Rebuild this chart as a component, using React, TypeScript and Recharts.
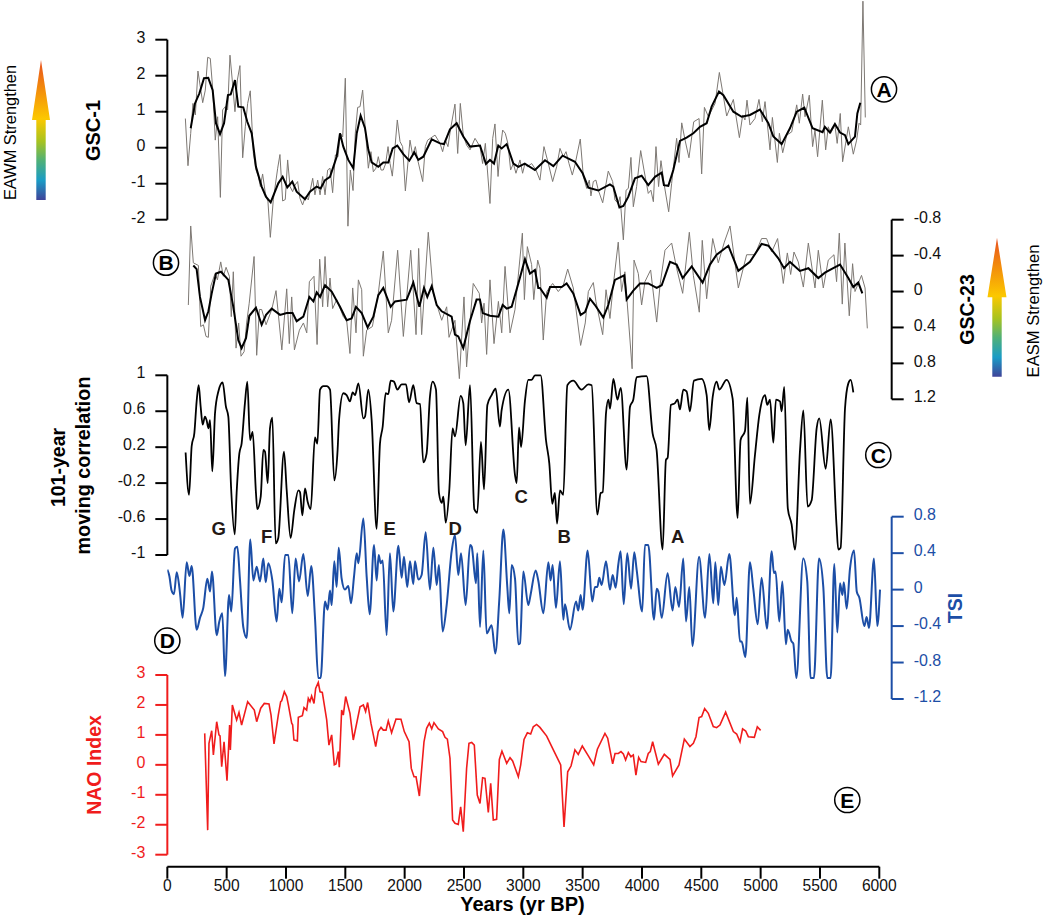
import React from "react";
import { ComposedChart, Line, XAxis, YAxis, ReferenceLine } from "recharts";

type Pair = [number, number];

const yearTicks = [0, 500, 1000, 1500, 2000, 2500, 3000, 3500, 4000, 4500, 5000, 5500, 6000];
const gsc1Ticks = [3, 2, 1, 0, -1, -2];
const gsc23Ticks = [-0.8, -0.4, 0, 0.4, 0.8, 1.2];
const corrTicks = [1, 0.6, 0.2, -0.2, -0.6, -1];
const tsiTicks = [0.8, 0.4, 0, -0.4, -0.8, -1.2];
const naoTicks = [3, 2, 1, 0, -1, -2, -3];

const gsc1Raw: Pair[] = [[152,.81],[174,-.5],[197,.4],[216,1.23],[236,.91],[258,2.13],[278,1.69],[298,1.25],[320,1.6],[340,2.51],[362,2.48],[382,1.65],[404,.21],[424,.86],[447,-1.38],[466,1.05],[489,1.14],[508,1.05],[528,2.57],[551,1.74],[570,1.0],[590,1.88],[612,2.28],[635,-.28],[657,.58],[677,1.23],[699,1.58],[725,-.16],[747,-.62],[767,-.8],[784,-1.08],[803,-.73],[826,-1.27],[848,-1.5],[868,-2.49],[893,-1.45],[930,-.57],[949,-.19],[972,-1.48],[994,-1.44],[1014,-.34],[1034,-1.08],[1056,-1.22],[1076,-1.04],[1098,-.94],[1118,-1.41],[1140,-1.59],[1163,-1.36],[1188,-1.45],[1225,-.85],[1244,-1.31],[1267,-.9],[1287,-1.31],[1309,-.8],[1329,-1.31],[1351,-.62],[1371,-.57],[1393,-1.25],[1416,-.2],[1438,-.25],[1458,.4],[1478,.3],[1500,1.93],[1522,-2.18],[1542,-.62],[1565,-1.19],[1584,.4],[1604,1.12],[1624,1.14],[1646,1.6],[1671,.4],[1694,-.57],[1716,-.11],[1736,-.67],[1758,-.57],[1778,-.25],[1801,-.62],[1820,-.62],[1840,-.44],[1860,.03],[1877,-.44],[1896,-.79],[1919,.03],[1938,.77],[1961,.17],[1983,.03],[2006,-1.2],[2045,.21],[2067,-.2],[2090,.03],[2110,-.34],[2152,-.94],[2174,.03],[2194,.21],[2216,.26],[2256,.35],[2298,.12],[2320,-.11],[2343,.21],[2365,.03],[2388,.54],[2424,1.21],[2447,-.16],[2469,1.23],[2494,.35],[2522,.07],[2551,-.06],[2593,.26],[2635,.03],[2657,-.44],[2680,.12],[2719,-1.55],[2742,.26],[2761,.66],[2787,-.8],[2805,-.06],[2826,.49],[2848,.4],[2870,.12],[2893,-.62],[2916,-.44],[2938,-.71],[2972,-.34],[2994,-.71],[3014,-.44],[3034,-.53],[3070,-.44],[3107,-.62],[3140,-.9],[3174,.03],[3211,-.44],[3247,-.94],[3281,-.53],[3309,-.02],[3337,-.25],[3360,-.11],[3385,-.44],[3413,-.76],[3435,-.48],[3480,.24],[3506,-.8],[3534,-1.13],[3556,-.9],[3570,-1.34],[3590,-.94],[3612,-.9],[3632,-1.18],[3669,-1.53],[3716,-.65],[3753,-.94],[3772,-1.45],[3800,-1.55],[3815,-1.36],[3843,-2.56],[3866,-1.18],[3885,-1.13],[3907,-.27],[3927,-1.64],[3955,-1.08],[3989,-.08],[4017,-.62],[4053,-1.27],[4075,-1.18],[4096,-1.5],[4118,.03],[4140,-1.08],[4160,-.36],[4188,-1.04],[4225,-1.78],[4250,-.99],[4292,.26],[4312,-.41],[4335,.69],[4363,.21],[4396,-.28],[4436,.72],[4481,.81],[4503,-.73],[4526,1.12],[4560,.86],[4616,1.23],[4652,2.09],[4714,.88],[4770,1.34],[4821,.28],[4849,.91],[4868,.77],[4885,1.32],[4910,.63],[4952,.81],[4986,1.34],[5014,.72],[5037,1.28],[5079,-.06],[5099,.84],[5141,-.41],[5158,.4],[5186,-.14],[5220,.35],[5262,.44],[5304,1.19],[5326,.68],[5354,1.49],[5374,.86],[5410,1.46],[5438,.03],[5458,.49],[5480,-.25],[5520,1.32],[5548,-.06],[5570,.58],[5590,.4],[5626,.63],[5645,.12],[5671,.95],[5691,-.39],[5739,.58],[5781,-.18],[5809,.21],[5829,.68],[5843,.63],[5862,4.07],[5882,.84]];

const gsc1Smooth: Pair[] = [[197,.54],[233,1.23],[270,1.51],[309,1.93],[345,1.94],[382,1.6],[410,.68],[444,.38],[478,.68],[511,1.46],[534,1.48],[570,1.88],[598,1.14],[640,1.12],[674,.72],[711,.4],[747,-.53],[795,-1.08],[831,-1.36],[871,-1.52],[907,-1.22],[935,-.99],[972,-.81],[1011,-1.1],[1053,-.94],[1090,-1.22],[1160,-1.43],[1202,-1.22],[1258,-1.08],[1292,-1.13],[1329,-.9],[1371,-.81],[1427,-.25],[1455,.4],[1483,.03],[1525,-.34],[1567,-.57],[1596,.4],[1629,.89],[1666,.54],[1694,-.06],[1722,-.41],[1778,-.53],[1820,-.41],[1862,-.41],[1899,-.02],[1938,.06],[1989,-.18],[2039,-.36],[2081,-.13],[2115,-.34],[2157,-.25],[2228,.23],[2298,.12],[2332,.1],[2382,.51],[2438,.68],[2494,.31],[2551,.03],[2635,.06],[2685,-.45],[2719,-.34],[2753,-.44],[2789,.06],[2817,-.02],[2860,.1],[2916,-.44],[2958,-.53],[3012,-.44],[3098,-.62],[3183,-.35],[3253,-.51],[3331,-.22],[3435,-.39],[3500,-.71],[3548,-1.11],[3632,-1.19],[3730,-1.02],[3758,-1.08],[3810,-1.66],[3843,-1.62],[3885,-1.36],[3941,-.85],[3997,-.78],[4053,-1.04],[4110,-.81],[4166,-.69],[4185,-1.04],[4222,-1.06],[4264,-.62],[4320,.19],[4376,.28],[4433,.4],[4489,.58],[4545,.68],[4587,1.14],[4649,1.56],[4686,1.46],[4770,1.0],[4840,.86],[4910,.91],[4994,1.06],[5065,.68],[5107,.31],[5177,.1],[5247,.54],[5304,1.0],[5368,1.11],[5438,.54],[5522,.43],[5541,.58],[5584,.42],[5626,.66],[5669,.42],[5711,.35],[5739,.1],[5795,.31],[5815,.95],[5840,1.25]];

const gsc23Raw: Pair[] = [[177,.15],[197,-.73],[219,-.32],[262,-.29],[281,.39],[304,.37],[326,.5],[346,.51],[366,-.06],[402,-.2],[422,-.13],[450,-.33],[472,-.17],[495,-.27],[523,-.17],[539,.28],[556,-.22],[579,.63],[601,.35],[621,.72],[647,.67],[668,.35],[690,.13],[731,-.39],[753,.71],[776,.2],[795,.2],[832,.37],[880,.2],[916,-.01],[965,.65],[1006,-.03],[1028,.58],[1048,.06],[1071,.65],[1113,.43],[1147,.35],[1175,.46],[1197,-.11],[1236,-.17],[1262,.59],[1284,-.36],[1309,.17],[1329,-.39],[1351,.17],[1371,-.15],[1393,.19],[1427,.09],[1483,.28],[1511,.32],[1539,.69],[1562,-.04],[1590,.46],[1610,-.13],[1638,-.02],[1652,.72],[1680,.43],[1728,.39],[1778,.02],[1820,-.45],[1862,.46],[1890,.32],[1941,-.46],[1989,.5],[2051,-.46],[2096,.48],[2118,-.48],[2143,.48],[2199,-.66],[2241,.02],[2284,.2],[2312,.32],[2354,.17],[2374,.51],[2424,.32],[2461,.97],[2500,.06],[2522,.84],[2550,.35],[2578,-.09],[2629,.02],[2649,.35],[2669,.13],[2691,.7],[2719,-.13],[2753,.58],[2790,.11],[2818,.46],[2846,-.28],[2888,.46],[2930,.2],[2992,-.65],[3009,.09],[3034,-.5],[3070,-.3],[3088,.09],[3121,-.35],[3140,-.26],[3168,.54],[3197,0],[3247,-.09],[3295,0],[3337,-.07],[3374,-.25],[3421,-.04],[3483,.6],[3522,.35],[3548,0],[3590,-.1],[3612,.11],[3669,.48],[3697,-.02],[3730,.3],[3758,-.07],[3800,-.55],[3828,0],[3856,-.22],[3917,.86],[3933,-.35],[3969,-.2],[3997,.15],[4025,-.11],[4073,-.24],[4124,.34],[4152,-.07],[4194,-.46],[4250,-.54],[4292,-.26],[4343,.02],[4399,-.66],[4433,-.18],[4483,.23],[4508,-.57],[4545,.08],[4596,-.59],[4643,-.32],[4694,-.55],[4742,-.73],[4812,-.04],[4882,-.41],[4952,-.41],[5008,-.59],[5050,-.59],[5093,-.44],[5143,-.59],[5191,-.09],[5225,-.43],[5253,-.19],[5281,-.44],[5317,-.33],[5360,-.05],[5402,-.54],[5458,-.04],[5486,-.46],[5528,-.04],[5570,-.35],[5618,-.41],[5640,-.11],[5663,-.65],[5688,.14],[5710,-.54],[5747,.27],[5775,-.31],[5795,0],[5850,-.18],[5880,-.04],[5899,.41]];

const gsc23Smooth: Pair[] = [[219,-.29],[247,-.25],[275,.06],[318,.32],[346,.22],[374,.02],[410,-.2],[452,-.22],[514,-.13],[556,.17],[598,.54],[626,.63],[663,.52],[691,.27],[747,.18],[795,.37],[832,.26],[880,.19],[950,.26],[1006,.24],[1056,.24],[1090,.33],[1146,.28],[1197,.06],[1231,.11],[1259,.01],[1287,.06],[1329,-.07],[1385,0],[1455,.17],[1511,.32],[1553,.3],[1590,.17],[1638,.24],[1688,.4],[1736,.28],[1778,.04],[1820,-.04],[1882,.17],[1919,.11],[2017,.09],[2073,-.1],[2124,.17],[2163,-.04],[2191,.06],[2228,-.06],[2270,.15],[2312,.22],[2396,.28],[2424,.48],[2452,.5],[2494,.63],[2550,.33],[2606,.09],[2634,.09],[2658,.24],[2719,.27],[2790,.28],[2826,.15],[2860,.19],[2902,.17],[2958,-.09],[3014,-.36],[3056,-.2],[3098,-.24],[3126,-.04],[3140,-.04],[3197,.07],[3225,-.05],[3323,-.05],[3365,-.09],[3421,.02],[3483,.26],[3520,.23],[3562,.08],[3604,.15],[3674,.29],[3716,.15],[3772,-.13],[3851,-.18],[3871,.09],[3927,-.01],[3983,-.09],[4053,-.09],[4124,-.04],[4166,-.07],[4236,-.33],[4292,-.3],[4343,-.15],[4419,-.28],[4511,-.1],[4573,-.3],[4629,-.41],[4728,-.51],[4812,-.23],[4910,-.33],[5008,-.53],[5065,-.51],[5149,-.37],[5197,-.26],[5247,-.33],[5331,-.23],[5402,-.26],[5486,-.15],[5542,-.21],[5612,-.26],[5669,-.3],[5739,-.15],[5781,-.05],[5823,-.1],[5857,.02]];

const movingCorr: Pair[] = [[154,.14],[183,-.33],[205,.21],[228,.36],[247,.71],[264,.89],[281,.65],[298,.45],[317,.54],[331,.5],[346,.41],[360,.5],[379,-.07],[402,.58],[430,.82],[466,.92],[494,.65],[514,.54],[537,-.24],[568,-.77],[584,-.31],[607,.13],[626,.24],[654,.69],[674,.93],[697,.28],[719,.37],[747,-.31],[758,-.49],[787,-.35],[809,.17],[823,.15],[846,-.2],[865,.41],[885,.53],[913,-.87],[935,-.81],[983,.15],[1006,-.28],[1039,-.81],[1070,-.5],[1104,-.28],[1118,-.3],[1138,-.56],[1160,-.26],[1183,-.41],[1208,-.49],[1244,.31],[1264,.24],[1287,.84],[1315,.88],[1343,.88],[1371,.84],[1407,-.17],[1435,.17],[1447,.5],[1483,.8],[1511,.78],[1539,.71],[1562,.81],[1582,.78],[1610,.91],[1652,.52],[1666,.54],[1694,.84],[1722,.5],[1764,-.71],[1792,.24],[1815,.43],[1840,.8],[1862,.79],[1882,.94],[1910,.93],[1938,.84],[1975,.9],[2011,.9],[2037,.7],[2073,.89],[2101,.69],[2129,.68],[2157,.03],[2185,.13],[2213,.76],[2236,.93],[2264,.84],[2289,-.31],[2312,-.42],[2326,-.35],[2346,-.64],[2376,-.28],[2404,.41],[2424,.32],[2472,.77],[2494,.69],[2514,.22],[2551,.89],[2587,-.49],[2612,-.53],[2643,.26],[2669,-.27],[2697,.67],[2733,.78],[2767,.85],[2803,.43],[2817,.61],[2874,.84],[2930,-.11],[2944,-.2],[2964,.42],[2981,.2],[3014,.72],[3042,.95],[3070,.95],[3098,1.0],[3146,1.0],[3191,.28],[3219,.02],[3244,-.43],[3266,-.31],[3284,-.65],[3309,-.28],[3337,-.33],[3371,.89],[3421,.94],[3491,.84],[3548,.9],[3576,.89],[3624,-.55],[3652,-.31],[3669,-.3],[3697,.58],[3717,.73],[3731,.63],[3759,.96],[3793,.73],[3821,.86],[3871,-.05],[3899,.65],[3927,.73],[3955,.98],[4039,.99],[4090,.35],[4123,.17],[4174,-.94],[4202,.06],[4216,.08],[4244,.67],[4278,.69],[4300,.73],[4320,.62],[4348,.84],[4376,.82],[4404,.6],[4438,.94],[4503,.96],[4545,.78],[4567,.39],[4596,.76],[4629,.93],[4652,.84],[4713,.95],[4764,.74],[4806,-.59],[4831,.28],[4868,.38],[4888,.75],[4910,-.43],[4952,.11],[4989,.56],[5037,.78],[5056,.67],[5079,.73],[5107,.25],[5129,.73],[5163,.71],[5177,.6],[5199,.87],[5229,-.48],[5261,-.66],[5289,-.94],[5332,.17],[5360,.61],[5396,-.46],[5430,-.39],[5472,.41],[5494,.52],[5548,-.04],[5590,.51],[5640,-.68],[5654,-.94],[5674,-.92],[5711,.63],[5739,.91],[5759,.95],[5781,.81]];

const tsi: Pair[] = [[0,.22],[17,.15],[36,-.01],[56,-.05],[79,.19],[107,-.04],[129,-.31],[163,.3],[186,.15],[205,.26],[247,-.44],[275,-.31],[303,-.2],[337,.12],[360,-.02],[376,.2],[416,-.5],[438,-.35],[463,-.26],[486,-.95],[520,-.06],[539,-.24],[570,.45],[590,.47],[612,.11],[640,-.41],[669,-.53],[699,.55],[725,.1],[753,.25],[781,.09],[809,.34],[829,.08],[851,.29],[885,.1],[921,-.35],[944,.01],[964,-.14],[992,.38],[1020,.38],[1053,-.26],[1081,.34],[1110,.09],[1146,.39],[1183,-.07],[1213,.26],[1244,-.3],[1272,-.97],[1292,-.97],[1329,-.13],[1351,-.22],[1371,-.01],[1385,-.17],[1407,.31],[1427,.03],[1444,.46],[1469,.12],[1497,0],[1525,.04],[1548,-.15],[1573,.14],[1596,.4],[1610,.29],[1652,.78],[1680,.14],[1705,-.27],[1742,.49],[1764,.1],[1781,.38],[1798,.29],[1815,.32],[1848,-.5],[1876,.4],[1904,-.24],[1947,.48],[1975,.13],[1994,.36],[2022,.03],[2045,.31],[2073,.06],[2087,.31],[2115,.11],[2143,.16],[2177,.63],[2213,0],[2242,.46],[2270,.05],[2289,.27],[2320,-.46],[2354,-.17],[2396,.42],[2424,.6],[2452,.16],[2475,.4],[2514,-.17],[2551,.49],[2565,.47],[2601,.07],[2612,.4],[2635,-.41],[2663,.43],[2691,-.48],[2733,-.39],[2764,-.7],[2798,-.1],[2832,.66],[2865,.03],[2882,-.26],[2902,.27],[2930,.12],[2958,-.6],[2972,-.59],[3000,.2],[3042,-.17],[3062,-.05],[3104,.21],[3126,.1],[3169,-.26],[3211,.3],[3230,.1],[3247,.27],[3275,-.2],[3309,.31],[3337,-.33],[3351,-.16],[3393,-.44],[3444,-.13],[3463,-.23],[3483,-.06],[3500,-.22],[3542,.43],[3581,-.13],[3604,.03],[3624,.03],[3640,.13],[3660,.05],[3697,.31],[3730,0],[3753,.16],[3778,.02],[3800,.27],[3820,.42],[3846,-.16],[3876,.4],[3908,.01],[3935,.41],[3955,.22],[4002,-.24],[4025,.49],[4053,.49],[4101,-.33],[4124,.01],[4138,-.02],[4166,-.31],[4216,.18],[4258,-.23],[4281,.03],[4312,-.19],[4348,.34],[4371,-.35],[4399,.03],[4425,-.62],[4481,.36],[4532,-.31],[4568,.39],[4601,-.15],[4618,.3],[4643,-.17],[4665,.25],[4694,.05],[4736,.39],[4783,-.28],[4798,-.09],[4826,-.57],[4840,-.57],[4871,-.74],[4910,.3],[4938,.01],[4975,-.38],[5008,.13],[5053,-.43],[5093,.42],[5112,.18],[5126,.2],[5157,-.35],[5183,.09],[5213,-.6],[5228,-.44],[5261,-.57],[5275,-.59],[5301,-.97],[5359,.34],[5393,.09],[5421,-.97],[5449,-.97],[5492,.34],[5528,.03],[5562,-.97],[5590,-.97],[5621,.28],[5646,-.47],[5669,.07],[5689,-.06],[5701,.08],[5725,-.21],[5753,.23],[5787,.43],[5810,-.02],[5832,-.09],[5874,-.4],[5893,-.3],[5913,-.42],[5955,.34],[5983,-.4],[6006,0]];

const nao: Pair[] = [[315,1.05],[340,-2.18],[351,.72],[374,1.14],[388,.33],[416,1.44],[435,1.0],[444,.97],[458,-.06],[478,.77],[503,-.53],[525,1.33],[531,.5],[548,2.0],[584,1.5],[604,1.75],[626,1.33],[677,2.11],[733,1.83],[753,1.44],[787,1.89],[817,2.05],[857,2.03],[874,1.66],[899,.7],[935,1.66],[955,2.11],[964,2.14],[986,2.44],[1006,2.28],[1020,2.0],[1048,1.39],[1056,1.34],[1067,.83],[1096,.8],[1104,1.59],[1138,1.64],[1152,1.91],[1174,1.83],[1188,2.22],[1202,2.11],[1216,2.3],[1236,2.05],[1250,2.55],[1272,2.75],[1287,2.44],[1306,2.42],[1343,1.5],[1362,.66],[1385,1.0],[1407,0],[1421,.03],[1441,.44],[1449,-.08],[1469,1.83],[1483,1.66],[1503,2.28],[1539,1.72],[1567,.83],[1624,1.94],[1652,2.0],[1671,1.78],[1688,2.08],[1716,1.39],[1756,.61],[1778,1.11],[1801,1.25],[1820,1.16],[1843,1.16],[1862,1.47],[1890,1.07],[1927,1.53],[1969,1.52],[1997,1.11],[2037,.77],[2056,-.12],[2079,-.4],[2096,-.4],[2124,-1.04],[2163,.77],[2185,1.22],[2208,1.39],[2228,1.2],[2247,1.41],[2284,1.2],[2320,1.11],[2340,.92],[2360,.86],[2382,.22],[2404,-1.84],[2424,-1.95],[2452,-1.99],[2472,-1.4],[2494,-2.23],[2522,-.12],[2542,.72],[2565,.75],[2587,.66],[2612,-1.01],[2635,-1.29],[2657,-.43],[2677,-.45],[2705,-1.59],[2725,-.62],[2747,-1.84],[2775,-1.82],[2798,.18],[2820,.46],[2860,.05],[2888,.24],[2910,.13],[2958,-.4],[2978,0],[3006,.85],[3034,1.07],[3062,1.03],[3084,1.27],[3112,1.35],[3140,1.25],[3197,.96],[3253,.5],[3315,0],[3343,-2.07],[3374,-.23],[3402,-.04],[3435,.5],[3463,.35],[3497,.63],[3548,.3],[3593,0],[3624,.52],[3688,1.05],[3711,.89],[3753,.03],[3773,.38],[3801,.38],[3823,.44],[3843,.36],[3862,.16],[3885,.41],[3907,.27],[3927,.33],[3949,-.34],[3972,.25],[3992,.11],[4031,.08],[4053,.38],[4070,.44],[4090,.77],[4138,.02],[4188,.35],[4236,.18],[4258,-.37],[4312,0],[4357,.86],[4404,.61],[4433,.72],[4455,.94],[4481,1.58],[4503,1.61],[4528,1.88],[4559,1.72],[4601,1.28],[4629,1.24],[4657,1.33],[4705,1.76],[4770,1.11],[4798,1.03],[4826,.77],[4848,1.2],[4874,1.13],[4896,.94],[4947,.92],[4972,1.27],[5000,1.15]];

const rows = (p: Pair[]) => p.map(([year, value]) => ({ year, value }));

// Pixel frame of the whole figure
const W = 1045, H = 916;
const LEFT = 167.3, RIGHT_AXIS = 891.7, BOTTOM = 866.7;
const PX_PER_YEAR = 0.11867;
const xMax = (RIGHT_AXIS - LEFT) / PX_PER_YEAR;
const THIN = 0.01; // an axis band of (almost) no size, so all axes sit on the plot edge

// Each y scale spans the full plot height, calibrated from two known tick pixels.
function spanDomain(vTop: number, pyTop: number, vBot: number, pyBot: number): [number, number] {
  const perPx = (vBot - vTop) / (pyBot - pyTop);
  const a = vTop - pyTop * perPx;
  const b = vTop + (BOTTOM - pyTop) * perPx;
  return a < b ? [a, b] : [b, a];
}
const domA = spanDomain(3, 39.7, -2, 219.7);
const domB = spanDomain(-0.8, 219.7, 1.2, 399.3);
const domC = spanDomain(1, 375.3, -1, 555);
const domD = spanDomain(0.8, 516.7, -1.2, 699);
const domE = spanDomain(3, 675, -3, 854.7);

const FONT = "'Liberation Sans', Arial, sans-serif";
const BLUE = "#1c4ea6";
const RED = "#f01c1c";
const GRAY = "#7d7873";

const axisProps = (stroke: string) => ({
  axisLine: false,
  width: THIN,
  interval: 0 as const,
  tickSize: 12,
  tickMargin: 10,
  tickLine: { stroke, strokeWidth: 2 },
  tick: { fill: stroke === "#000" ? "#111" : stroke, fontSize: 16, fontFamily: FONT, dy: -2.5 },
  type: "number" as const,
});

const Rot = ({ x, y, size, color, bold, children }: any) => (
  <text
    transform={`translate(${x},${y}) rotate(-90)`}
    textAnchor="middle"
    dominantBaseline="central"
    fontSize={size}
    fontWeight={bold ? 700 : 400}
    fill={color || "#000"}
    fontFamily={FONT}
  >
    {children}
  </text>
);

const Badge = ({ x, y, t }: any) => (
  <g>
    <circle cx={x} cy={y} r={12.6} fill="#fff" fillOpacity={0} stroke="#000" strokeWidth={1.5} />
    <text x={x} y={y + 7.5} textAnchor="middle" fontSize={21} fontWeight={700} fontFamily={FONT} fill="#000">{t}</text>
  </g>
);

const Mark = ({ x, y, t }: any) => (
  <text x={x} y={y} fontSize={18.5} fontWeight={700} fontFamily={FONT} fill="#231815">{t}</text>
);

const arrow = (cx: number, tip: number, base: number, end: number, hw: number, sw: number) =>
  `M${cx},${tip} L${cx + hw},${base} L${cx + sw},${base} L${cx + sw},${end} L${cx - sw},${end} L${cx - sw},${base} L${cx - hw},${base} Z`;

const Stops = () => (
  <>
    <stop offset="0" stopColor="#e8501f" />
    <stop offset="0.2" stopColor="#f28a0c" />
    <stop offset="0.42" stopColor="#fcc800" />
    <stop offset="0.58" stopColor="#a8c31f" />
    <stop offset="0.72" stopColor="#4fb078" />
    <stop offset="0.86" stopColor="#1a9cc6" />
    <stop offset="1" stopColor="#3f4399" />
  </>
);

export default function App() {
  return (
    <div style={{ position: "absolute", left: 0, top: 0, width: W, height: H, background: "#fff" }}>
      <ComposedChart
        width={W}
        height={H}
        margin={{ top: 0, left: LEFT, right: W - RIGHT_AXIS, bottom: H - BOTTOM }}
      >
        <XAxis
          dataKey="year"
          type="number"
          domain={[0, xMax]}
          ticks={yearTicks}
          interval={0}
          height={THIN}
          axisLine={false}
          allowDataOverflow
          tickSize={12}
          tickMargin={1}
          tickLine={{ stroke: "#000", strokeWidth: 2 }}
          tick={{ fill: "#111", fontSize: 15.6, fontFamily: FONT }}
        />
        <YAxis yAxisId="a" orientation="left" domain={domA} ticks={gsc1Ticks} {...axisProps("#000")} />
        <YAxis yAxisId="b" orientation="right" reversed domain={domB} ticks={gsc23Ticks} {...axisProps("#000")} />
        <YAxis yAxisId="c" orientation="left" domain={domC} ticks={corrTicks} {...axisProps("#000")} />
        <YAxis yAxisId="d" orientation="right" domain={domD} ticks={tsiTicks} {...axisProps(BLUE)} />
        <YAxis yAxisId="e" orientation="left" domain={domE} ticks={naoTicks} {...axisProps(RED)} />

        <ReferenceLine yAxisId="a" ifOverflow="visible" stroke="#000" strokeWidth={2} segment={[{ x: 0, y: 3 }, { x: 0, y: -2 }]} />
        <ReferenceLine yAxisId="b" ifOverflow="visible" stroke="#000" strokeWidth={2} segment={[{ x: xMax, y: -0.8 }, { x: xMax, y: 1.2 }]} />
        <ReferenceLine yAxisId="c" ifOverflow="visible" stroke="#000" strokeWidth={2} segment={[{ x: 0, y: 1 }, { x: 0, y: -1 }]} />
        <ReferenceLine yAxisId="d" ifOverflow="visible" stroke={BLUE} strokeWidth={2} segment={[{ x: xMax, y: 0.8 }, { x: xMax, y: -1.2 }]} />
        <ReferenceLine yAxisId="e" ifOverflow="visible" stroke={RED} strokeWidth={2} segment={[{ x: 0, y: 3 }, { x: 0, y: -3 }]} />
        <ReferenceLine yAxisId="e" ifOverflow="visible" stroke="#000" strokeWidth={2} segment={[{ x: 0, y: domE[0] }, { x: 6000, y: domE[0] }]} />

        <Line yAxisId="a" data={rows(gsc1Raw)} dataKey="value" stroke={GRAY} strokeWidth={1} dot={false} type="linear" isAnimationActive={false} />
        <Line yAxisId="a" data={rows(gsc1Smooth)} dataKey="value" stroke="#000" strokeWidth={2} dot={false} type="linear" isAnimationActive={false} />
        <Line yAxisId="b" data={rows(gsc23Raw)} dataKey="value" stroke={GRAY} strokeWidth={1} dot={false} type="linear" isAnimationActive={false} />
        <Line yAxisId="b" data={rows(gsc23Smooth)} dataKey="value" stroke="#000" strokeWidth={2} dot={false} type="linear" isAnimationActive={false} />
        <Line yAxisId="c" data={rows(movingCorr)} dataKey="value" stroke="#000" strokeWidth={1.8} dot={false} type="monotone" isAnimationActive={false} />
        <Line yAxisId="d" data={rows(tsi)} dataKey="value" stroke={BLUE} strokeWidth={2} dot={false} type="monotone" isAnimationActive={false} />
        <Line yAxisId="e" data={rows(nao)} dataKey="value" stroke={RED} strokeWidth={1.6} dot={false} type="linear" isAnimationActive={false} />
      </ComposedChart>

      <svg width={W} height={H} style={{ position: "absolute", left: 0, top: 0, pointerEvents: "none" }}>
        <defs>
          <linearGradient id="ramp" x1="0" y1="0" x2="0" y2="1"><Stops /></linearGradient>
        </defs>
        <path d={arrow(41, 60, 120, 200, 9, 4.7)} fill="url(#ramp)" />
        <path d={arrow(997, 237.7, 297.3, 376.7, 9.5, 4.7)} fill="url(#ramp)" />

        <Rot x={10} y={132.5} size={16.4}>EAWM Strengthen</Rot>
        <Rot x={1033} y={311} size={16.6}>EASM Strengthen</Rot>
        <Rot x={92.5} y={130.5} size={20} bold>GSC-1</Rot>
        <Rot x={966.5} y={309.5} size={19.5} bold>GSC-23</Rot>
        <Rot x={58} y={467.5} size={19.5} bold>101-year</Rot>
        <Rot x={83} y={465.5} size={19.8} bold>moving correlation</Rot>
        <Rot x={955} y={608} size={19.5} color={BLUE} bold>TSI</Rot>
        <Rot x={94} y={765} size={19.5} color={RED} bold>NAO Index</Rot>

        <text x={522.5} y={911} textAnchor="middle" fontSize={20} fontWeight={700} fontFamily={FONT} fill="#000">Years (yr BP)</text>

        <Mark x={211.5} y={535} t="G" />
        <Mark x={261} y={543} t="F" />
        <Mark x={383.5} y={535} t="E" />
        <Mark x={448.5} y={535} t="D" />
        <Mark x={514.5} y={503} t="C" />
        <Mark x={557.5} y={543} t="B" />
        <Mark x={671} y={543} t="A" />

        <Badge x={884} y={89.3} t="A" />
        <Badge x={166} y={262.7} t="B" />
        <Badge x={878.3} y={455} t="C" />
        <Badge x={167.3} y={640.7} t="D" />
        <Badge x={847.3} y={800} t="E" />
      </svg>
    </div>
  );
}
